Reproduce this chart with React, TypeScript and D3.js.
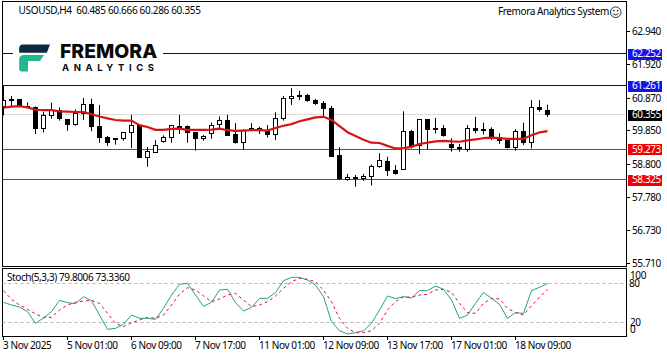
import React from "react";
import * as d3 from "d3";

const opens = [60.61,60.84,60.82,60.62,60.58,59.92,60.33,60.50,60.21,60.04,60.40,60.68,60.00,59.63,59.62,59.61,59.80,60.02,59.02,59.18,59.53,59.64,60.00,59.99,59.80,59.62,59.77,60.04,60.16,59.75,59.48,59.86,59.93,59.85,59.73,60.23,60.86,60.94,60.97,60.80,60.72,60.56,59.09,58.33,58.38,58.35,58.42,58.73,58.90,58.62,58.65,59.84,59.38,60.21,59.92,59.93,59.41,59.34,59.26,59.93,59.90,59.90,59.65,59.54,59.33,59.84,59.48,60.59,60.485];
const highs = [61.25,60.94,60.84,60.74,60.61,60.45,60.73,60.58,60.21,60.52,60.88,60.86,60.66,59.69,59.62,59.80,60.35,60.02,59.34,59.56,59.71,60.02,60.35,60.02,59.80,59.72,60.11,60.30,60.35,60.09,59.90,60.09,59.98,60.03,60.43,60.94,61.18,61.10,61.00,60.85,60.78,60.63,59.34,58.50,58.47,58.50,58.80,59.15,59.04,58.78,60.46,59.88,60.21,60.22,60.25,60.03,59.62,59.44,60.03,60.29,60.11,59.96,59.77,59.59,59.90,60.11,60.81,60.81,60.666];
const lows = [60.33,60.59,60.63,60.59,59.75,59.80,60.23,60.17,59.85,60.01,60.19,59.84,59.48,59.38,59.42,59.54,59.31,59.01,58.73,59.18,59.48,59.48,59.75,59.48,59.23,59.54,59.61,59.93,59.70,59.45,59.27,59.85,59.75,59.64,59.56,60.17,60.66,60.81,60.76,60.66,60.31,59.04,58.31,58.29,58.11,58.29,58.14,58.70,58.44,58.48,58.65,59.30,59.13,59.27,59.77,59.67,59.20,59.20,59.20,59.77,59.74,59.56,59.44,59.30,59.23,59.41,59.30,60.45,60.286];
const closes = [60.81,60.79,60.63,60.60,59.92,60.33,60.48,60.23,60.04,60.40,60.68,59.98,59.63,59.48,59.59,59.80,60.02,59.01,59.21,59.40,59.65,60.02,59.97,59.80,59.61,59.68,60.02,60.17,59.70,59.48,59.85,59.93,59.88,59.73,60.24,60.87,60.93,60.91,60.79,60.69,60.56,59.06,58.35,58.40,58.36,58.42,58.73,58.93,58.60,58.53,59.84,59.36,60.21,59.89,59.89,59.72,59.33,59.29,59.93,59.85,59.86,59.63,59.54,59.33,59.83,59.48,60.59,60.53,60.355];
const maValues = [60.575,60.61,60.62,60.585,60.51,60.50,60.50,60.46,60.45,60.44,60.44,60.37,60.30,60.24,60.19,60.17,60.17,60.03,59.97,59.88,59.88,59.91,59.92,59.88,59.88,59.88,59.89,59.92,59.87,59.85,59.86,59.87,59.87,59.86,59.94,60.01,60.06,60.15,60.21,60.27,60.29,60.19,60.00,59.81,59.69,59.575,59.48,59.47,59.38,59.30,59.31,59.35,59.44,59.48,59.52,59.54,59.52,59.51,59.55,59.585,59.62,59.64,59.62,59.60,59.60,59.60,59.71,59.80,59.84];
const stochMain = [50.7,46.6,43.5,36.4,18.4,26.6,36.4,53.8,50.2,48.7,59.4,53.3,31.2,9.2,10.7,16.9,31.2,26.1,26.1,24.6,41.5,62.0,78.4,80.0,62.0,44.6,50.7,69.7,70.7,50.2,37.4,43.0,56.9,56.9,65.6,84.0,89.2,89.2,85.1,77.4,59.4,21.0,7.1,2.0,4.1,7.1,18.4,39.0,60.4,56.4,59.4,57.4,68.7,68.7,75.9,70.7,54.3,26.1,31.2,49.2,66.1,56.9,47.6,26.1,34.8,33.8,68.7,73.8,79.8];
const stochSignal = [68.7,55.3,46.6,40.0,32.8,27.6,27.6,39.0,46.6,50.7,52.8,53.8,49.2,33.8,18.4,13.3,19.4,23.5,27.6,26.1,31.2,46.6,63.5,73.3,69.7,60.5,51.7,55.9,62.0,64.6,54.3,44.1,46.6,51.7,60.5,72.3,82.5,87.6,86.1,82.5,69.7,51.7,26.1,10.7,4.1,4.1,7.1,18.4,39.0,51.7,59.4,58.4,62.0,63.0,69.7,70.7,66.1,49.2,34.8,33.8,49.2,56.9,55.9,41.5,34.8,31.2,45.6,58.4,70.7];

const priceTicks = [62.94,61.92,60.87,59.85,58.80,57.78,56.73,55.71];
const blueLevels = [62.252,61.261];
const redLevels = [59.273,58.325];
const lastPrice = 60.355;
const stochLevels = [80,20];
const timeTickBars = [0,8,16,24,32,40,48,56,64];
const timeTickLabels = ["3 Nov 2025","5 Nov 01:00","6 Nov 09:00","7 Nov 17:00","11 Nov 01:00","12 Nov 09:00","13 Nov 17:00","17 Nov 01:00","18 Nov 09:00"];
const title = "USOUSD,H4  60.485 60.666 60.286 60.355";
const stochTitle = "Stoch(5,3,3) 79.8006 73.3360";

const FONT = "'Noto Sans', sans-serif";
const W = 667, H = 357, L = 2.5, R = 626.5;

const x = d3.scaleLinear().domain([0, 8]).range([3.5, 67.5]);
const y = d3.scaleLinear().domain([63.908, 55.627]).range([1, 266]);
const s = d3.scaleLinear().domain([100, 0]).range([270.3, 335.3]);
const snap = (v: number) => Math.round(v - 0.5) + 0.5;

const maLine = d3.line<number>().x((_, i) => x(i)).y(d => y(d));
const stochLine = d3.line<number>().x((_, i) => x(i)).y(d => s(d));

const txt = { fontFamily: FONT, fontSize: 10, letterSpacing: "-0.4px", fill: "#000" } as const;

function Label({ p, bg }: { p: number; bg: string }) {
  const yy = y(p);
  return (
    <g>
      <rect x={628} y={Math.round(yy) - 5} width={34} height={11} fill={bg} />
      <text x={632} y={yy + 3.5} {...txt} fill="#fff">{p.toFixed(3)}</text>
    </g>
  );
}

export default function App() {
  return (
    <svg width={W} height={H} viewBox={`0 0 ${W} ${H}`} style={{ position: "absolute", left: 0, top: 0, background: "#fff" }}>
      <defs>
        <clipPath id="main"><rect x={L} y={1.5} width={R - L} height={265} /></clipPath>
        <clipPath id="sub"><rect x={L} y={268.5} width={R - L} height={68} /></clipPath>
      </defs>

      {blueLevels.map(p => <line key={p} x1={L} x2={R} y1={snap(y(p))} y2={snap(y(p))} stroke="#0000c0" />)}
      {redLevels.map(p => <line key={p} x1={L} x2={R} y1={snap(y(p))} y2={snap(y(p))} stroke="#e01818" />)}
      <line x1={L} x2={R} y1={snap(y(lastPrice))} y2={snap(y(lastPrice))} stroke="#b4b4b4" strokeDasharray="1 1" />

      <g clipPath="url(#main)">
        {opens.map((o, i) => {
          const c = closes[i];
          const top = snap(y(Math.max(o, c)));
          const bot = snap(y(Math.min(o, c)));
          const up = c >= o;
          return (
            <g key={i}>
              <line x1={x(i)} x2={x(i)} y1={y(highs[i])} y2={y(lows[i])} stroke="#000" />
              <rect x={x(i) - 2} y={top} width={4} height={Math.max(bot - top, 1)} fill={up ? "#fff" : "#000"} stroke="#000" />
            </g>
          );
        })}
        <path d={maLine(maValues) ?? ""} fill="none" stroke="#d81414" strokeWidth={2.2} strokeLinejoin="round" />
      </g>

      <rect x={13} y={38} width={150} height={37} fill="#fff" />
      <path d="M23 44.6 H50 L46.8 52.7 H19.2 V48.4 Q19.2 44.6 23 44.6 Z" fill="#0c2b40" />
      <path d="M24 55 H44 L40 61 H28 V71.5 H22 Q19.2 71.5 19.2 69 V59.8 Q19.2 55 24 55 Z" fill="#1fb98f" />
      <text x={60} y={58} fontFamily="Inter, 'Open Sans', sans-serif" fontWeight={800} fontSize={19.4} fill="#0a0a0a">FREMORA</text>
      <text x={62} y={71} fontFamily="Inter, 'Open Sans', sans-serif" fontWeight={700} fontSize={9.5} letterSpacing="4.6px" fill="#0a0a0a">ANALYTICS</text>

      <rect x={L} y={1.5} width={R - L} height={265} fill="none" stroke="#000" />
      <rect x={L} y={268.5} width={R - L} height={68} fill="none" stroke="#000" />

      <text x={18.5} y={14} {...txt} letterSpacing="-0.32px" xmlSpace="preserve">{title}</text>
      <text x={498} y={15} {...txt}>Fremora Analytics System</text>
      <g fill="none" stroke="#000" strokeWidth={0.8}>
        <circle cx={615.7} cy={12.2} r={5.3} />
        <path d="M612.8 13.6 Q615.7 16.6 618.6 13.6" />
      </g>
      <circle cx={613.8} cy={10.6} r={0.8} fill="#000" />
      <circle cx={617.6} cy={10.6} r={0.8} fill="#000" />

      {priceTicks.map(p => (
        <g key={p}>
          <line x1={R} x2={630} y1={snap(y(p))} y2={snap(y(p))} stroke="#000" />
          <text x={632} y={y(p) + 3.5} {...txt}>{p.toFixed(3)}</text>
        </g>
      ))}
      {blueLevels.map(p => <Label key={p} p={p} bg="#1414e6" />)}
      {redLevels.map(p => <Label key={p} p={p} bg="#f00000" />)}
      <Label p={lastPrice} bg="#000" />

      {stochLevels.map(v => <line key={v} x1={L} x2={R} y1={snap(s(v))} y2={snap(s(v))} stroke="#b4b4b4" strokeDasharray="3 3" />)}
      <g clipPath="url(#sub)">
        <path d={stochLine(stochMain) ?? ""} fill="none" stroke="#20a090" strokeWidth={1} />
        <path d={stochLine(stochSignal) ?? ""} fill="none" stroke="#dc143c" strokeWidth={1} strokeDasharray="3 3" />
      </g>
      <text x={7} y={280.5} {...txt}>{stochTitle}</text>

      <text x={630} y={278.5} {...txt}>100</text>
      <text x={629} y={287} {...txt}>80</text>
      <text x={630} y={325.5} {...txt}>20</text>
      <text x={630} y={332.5} {...txt}>0</text>

      {timeTickBars.map((b, i) => (
        <g key={b}>
          <line x1={x(b)} x2={x(b)} y1={336.5} y2={340} stroke="#000" />
          <text x={x(b) - 0.5} y={349} {...txt}>{timeTickLabels[i]}</text>
        </g>
      ))}
    </svg>
  );
}
